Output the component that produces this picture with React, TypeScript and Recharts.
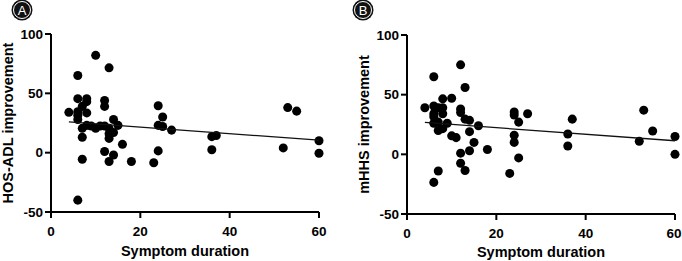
import React from "react";
import { ScatterChart, Scatter, XAxis, YAxis, ZAxis } from "recharts";

// symptom duration (months) vs improvement
const hosX = [4, 6, 6, 6, 6, 6, 6, 7, 7, 7, 7, 8, 8, 8, 8, 9, 10, 10, 11, 12, 12, 12, 12, 13, 13, 13, 13, 13, 14, 14, 14, 15, 16, 18, 23, 24, 24, 24, 25, 25, 27, 36, 36, 37, 52, 53, 55, 60, 60];
const hosY = [34, 65, 45.5, 34.5, 31.5, 28, -40, 39, 20.5, 13, -5.5, 45.5, 43, 33.5, 23, 22.5, 82, 20.5, 22.5, 44, 39, 22.5, 1, 71.5, 20.5, 16, 12, -7.5, 28, 17, -2, 23, 7, -7.5, -8.5, 39.5, 23, 1.5, 30, 22, 19, 13.5, 2.5, 14.5, 4, 38, 35, 10, -0.5];
const hosFitX = [4, 60];
const hosFitY = [26, 10.5];

const mhhsX = [4, 6, 6, 6, 6, 6, 6, 7, 7, 7, 7, 8, 8, 8, 8, 9, 10, 10, 11, 12, 12, 12, 12, 12, 13, 13, 13, 14, 14, 14, 15, 16, 18, 23, 24, 24, 24, 24, 25, 25, 27, 36, 36, 37, 52, 53, 55, 60, 60];
const mhhsY = [39, 65, 40.5, 34, 31.5, 26, -23.5, 39, 27, 20, -14, 46.5, 39, 34, 21.5, 26, 47, 15.5, 14, 75, 38, 35, 1, -7.5, 56, 29.5, -13.5, 28.5, 19, 3, 10, 24, 4, -16, 35.5, 33, 16, 10, 27, -3, 34, 17, 7, 29.5, 11, 37, 19.5, 15, 0];
const mhhsFitX = [4, 60];
const mhhsFitY = [26.7, 11.4];

const xTicks = [0, 20, 40, 60];
const yTicks = [-50, 0, 50, 100];

const font = "'Liberation Sans', Arial, sans-serif";

const toPoints = (xs: number[], ys: number[]) => xs.map((x, i) => ({ x, y: ys[i] }));

const XTick = (props: any) => {
  const { x, y, payload } = props;
  return (
    <text x={x} y={y + 14} textAnchor="middle" fontFamily={font} fontWeight="bold" fontSize={13.5} fill="#000">
      {payload.value}
    </text>
  );
};

const YTick = (props: any) => {
  const { x, y, payload } = props;
  return (
    <text x={x} y={y} textAnchor="end" dominantBaseline="central" fontFamily={font} fontWeight="bold" fontSize={13.5} fill="#000">
      {payload.value}
    </text>
  );
};

const yLabel = (text: string, cx: number) => (props: any) => {
  const vb = props.viewBox;
  const cy = vb.y + vb.height / 2;
  return (
    <text
      x={cx}
      y={cy}
      transform={`rotate(-90 ${cx} ${cy})`}
      textAnchor="middle"
      dominantBaseline="central"
      fontFamily={font}
      fontWeight="bold"
      fontSize={14.5}
      fill="#000"
    >
      {text}
    </text>
  );
};

const xLabel = (text: string, dy: number) => (props: any) => {
  const vb = props.viewBox;
  return (
    <text
      x={vb.x + vb.width / 2}
      y={vb.y + dy}
      textAnchor="middle"
      dominantBaseline="central"
      fontFamily={font}
      fontWeight="bold"
      fontSize={14.5}
      fill="#000"
    >
      {text}
    </text>
  );
};

function Badge({ letter }: { letter: string }) {
  return (
    <svg width={24} height={24} style={{ position: "absolute", left: -2, top: -2 }}>
      <circle cx={12} cy={12} r={10.5} fill="#111" />
      <circle cx={12} cy={12} r={8.5} fill="none" stroke="#fff" strokeWidth={1} />
      <text x={12} y={12.5} textAnchor="middle" dominantBaseline="central" fontFamily={font} fontSize={13} fill="#fff">
        {letter}
      </text>
    </svg>
  );
}

interface PanelProps {
  letter: string;
  badgeLeft: number;
  yTitle: string;
  xs: number[];
  ys: number[];
  fitX: number[];
  fitY: number[];
  margin: { top: number; right: number; left: number; bottom: number };
  yAxisWidth: number;
  xAxisHeight: number;
  yTitleX: number;
  xTitleDy: number;
}

function Panel(p: PanelProps) {
  return (
    <div style={{ position: "relative", width: 341, height: 261 }}>
      <ScatterChart width={341} height={261} margin={p.margin}>
        <XAxis
          type="number"
          dataKey="x"
          domain={[0, 60]}
          ticks={xTicks}
          height={p.xAxisHeight}
          tick={<XTick />}
          tickSize={6}
          tickMargin={4}
          stroke="#000"
          strokeWidth={2}
          tickLine={{ stroke: "#000", strokeWidth: 2 }}
          label={xLabel("Symptom duration", p.xTitleDy)}
        />
        <YAxis
          type="number"
          dataKey="y"
          domain={[-50, 100]}
          ticks={yTicks}
          width={p.yAxisWidth}
          tick={<YTick />}
          tickSize={6}
          tickMargin={2}
          stroke="#000"
          strokeWidth={2}
          tickLine={{ stroke: "#000", strokeWidth: 2 }}
          label={yLabel(p.yTitle, p.yTitleX)}
        />
        <ZAxis range={[50, 50]} />
        <Scatter data={toPoints(p.xs, p.ys)} fill="#000" isAnimationActive={false} />
        <Scatter
          data={toPoints(p.fitX, p.fitY)}
          line={{ stroke: "#111", strokeWidth: 1.3 }}
          shape={() => <g />}
          isAnimationActive={false}
        />
      </ScatterChart>
      <div style={{ position: "absolute", left: p.badgeLeft, top: 0 }}>
        <Badge letter={p.letter} />
      </div>
    </div>
  );
}

export default function App() {
  return (
    <div style={{ position: "absolute", left: 0, top: 0, width: 682, height: 261, display: "flex", background: "#fff" }}>
      <Panel
        letter="A"
        badgeLeft={12}
        yTitle="HOS-ADL improvement"
        xs={hosX}
        ys={hosY}
        fitX={hosFitX}
        fitY={hosFitY}
        margin={{ top: 34, right: 22, left: 0, bottom: 0 }}
        yAxisWidth={51}
        xAxisHeight={49}
        yTitleX={8}
        xTitleDy={39}
      />
      <Panel
        letter="B"
        badgeLeft={12}
        yTitle="mHHS improvement"
        xs={mhhsX}
        ys={mhhsY}
        fitX={mhhsFitX}
        fitY={mhhsFitY}
        margin={{ top: 35, right: 7, left: 0, bottom: 0 }}
        yAxisWidth={66}
        xAxisHeight={47}
        yTitleX={23}
        xTitleDy={38}
      />
    </div>
  );
}
